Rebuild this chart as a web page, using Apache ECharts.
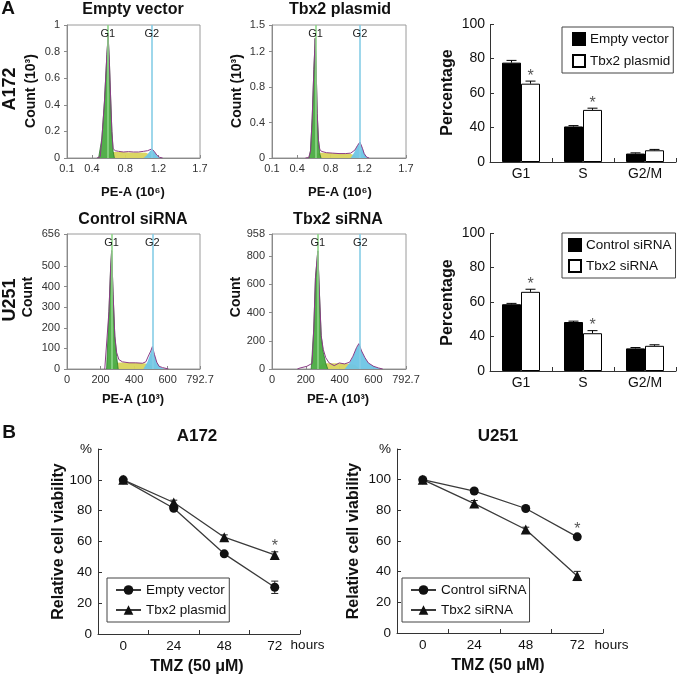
<!DOCTYPE html>
<html><head><meta charset="utf-8">
<script src="https://cdn.jsdelivr.net/npm/echarts@6/dist/echarts.min.js"></script>
<style>html,body{margin:0;padding:0;background:#fff}#c{width:677px;height:677px}</style>
</head><body><div id="c"></div><script>
// ---------- Panel A: cell-cycle histograms (x: PE-A, y: count) ----------
const gateNames = ['G1', 'G2'];
// A172 Empty vector (x in 10^6, y in 10^3)
const h1Total = [[0.46,0],[0.50,0.01],[0.52,0.15],[0.55,0.42],[0.58,0.78],[0.595,0.92],[0.61,0.72],[0.625,0.45],[0.64,0.2],[0.655,0.07],[0.68,0.055],[0.72,0.05],[0.78,0.045],[0.84,0.048],[0.90,0.045],[0.96,0.045],[1.02,0.05],[1.07,0.055],[1.12,0.068],[1.15,0.05],[1.18,0.022],[1.21,0.006],[1.25,0]];
const h1G1 = [[0.48,0],[0.50,0.01],[0.52,0.15],[0.55,0.42],[0.58,0.78],[0.595,0.92],[0.61,0.72],[0.625,0.45],[0.64,0.2],[0.655,0.05],[0.67,0]];
const h1S = [[0.56,0],[0.60,0.03],[0.65,0.045],[0.75,0.045],[0.85,0.042],[0.95,0.042],[1.05,0.04],[1.10,0.025],[1.14,0]];
const h1G2 = [[1.02,0],[1.06,0.02],[1.09,0.045],[1.12,0.065],[1.15,0.048],[1.18,0.02],[1.21,0]];
const h1Gates = [0.59, 1.12];
// A172 Tbx2 plasmid
const h2Total = [[0.50,0],[0.54,0.005],[0.56,0.08],[0.58,0.45],[0.60,1.0],[0.616,1.35],[0.63,0.9],[0.64,0.5],[0.655,0.2],[0.67,0.1],[0.69,0.075],[0.75,0.06],[0.82,0.055],[0.90,0.05],[0.98,0.05],[1.04,0.055],[1.09,0.09],[1.12,0.14],[1.15,0.18],[1.18,0.11],[1.20,0.05],[1.23,0.01],[1.26,0]];
const h2G1 = [[0.54,0],[0.56,0.08],[0.58,0.45],[0.60,1.0],[0.616,1.35],[0.63,0.9],[0.64,0.5],[0.655,0.2],[0.67,0.05],[0.685,0]];
const h2S = [[0.58,0],[0.62,0.05],[0.68,0.06],[0.80,0.055],[0.92,0.05],[1.02,0.05],[1.08,0.035],[1.13,0]];
const h2G2 = [[1.04,0],[1.08,0.06],[1.12,0.14],[1.15,0.18],[1.18,0.11],[1.21,0.04],[1.24,0]];
const h2Gates = [0.62, 1.15];
// U251 Control siRNA (x in 10^3)
const h3Total = [[225,0],[236,5],[250,280],[260,490],[266,575],[275,360],[285,160],[296,80],[309,46],[330,35],[370,30],[410,30],[450,28],[470,35],[485,63],[499,87],[509,109],[521,71],[535,33],[549,13],[569,7],[605,0]];
const h3G1 = [[236,0],[250,280],[260,490],[266,575],[275,360],[285,160],[296,60],[305,0]];
const h3S = [[265,0],[290,30],[330,32],[400,30],[460,28],[500,20],[530,0]];
const h3G2 = [[455,0],[480,35],[499,80],[509,105],[521,71],[535,33],[555,10],[580,0]];
const h3Gates = [266, 509];
// U251 Tbx2 siRNA
const h4Total = [[150,0],[166,7],[206,19],[237,40],[247,284],[257,645],[271,838],[281,525],[291,236],[303,140],[318,80],[338,43],[368,24],[398,43],[429,36],[459,48],[479,91],[500,152],[514,180],[530,128],[550,80],[570,43],[601,19],[631,7],[655,0]];
const h4G1 = [[232,0],[247,284],[257,645],[271,838],[281,525],[291,236],[303,120],[318,40],[330,0]];
const h4S = [[270,0],[300,40],[340,40],[400,40],[450,38],[490,30],[520,0]];
const h4G2 = [[430,0],[460,45],[480,90],[500,150],[514,175],[530,128],[550,80],[570,43],[601,19],[631,5],[650,0]];
const h4Gates = [271, 522];
// tick labels
const hAXTicks = [0.1, 0.4, 0.8, 1.2, 1.7];
const h1YTicks = [0, 0.2, 0.4, 0.6, 0.8, 1];
const h2YTicks = [0, 0.4, 0.8, 1.2, 1.5];
const hUXTicks = [0, 200, 400, 600, 792.7];
const h3YTicks = [0, 100, 200, 300, 400, 500, 656];
const h4YTicks = [0, 200, 400, 600, 800, 958];

// ---------- Panel A: bar charts ----------
const phases = ['G1', 'S', 'G2/M'];
const barA172Empty = [77.6, 40.6, 4.9];
const barA172EmptyErr = [1.3, 0.5, 0.4];
const barA172Tbx2 = [65.4, 50.2, 6.8];
const barA172Tbx2Err = [1.5, 1.0, 0.5];
const barA172Stars = [1, 1, 0];
const barU251Ctrl = [58.7, 48.4, 33.1];
const barU251CtrlErr = [0.5, 0.5, 0.5];
const barU251Si = [65.9, 41.9, 34.6];
const barU251SiErr = [1.5, 1.5, 0.6];
const barU251Stars = [1, 1, 0];
const barYTicks = [0, 40, 60, 80, 100];

// ---------- Panel B: viability ----------
const hours = ['0', '24', '48', '72'];
const vA172Empty = [100, 81.6, 52, 30.3];
const vA172EmptyErr = [0.8, 1.5, 1, 4];
const vA172Tbx2 = [100, 85.3, 62.8, 51.3];
const vA172Tbx2Err = [0.8, 1.5, 1.5, 2];
const vA172Stars = [0, 0, 0, 1]; // on Tbx2 plasmid
const vU251Ctrl = [100, 92.6, 81.2, 62.7];
const vU251CtrlErr = [0.8, 1.5, 1, 1.5];
const vU251Si = [100, 84.4, 67.5, 37.2];
const vU251SiErr = [0.8, 2, 1.5, 3];
const vU251Stars = [0, 0, 0, 1]; // on Control siRNA
const viabYTickValues = [0, 20, 40, 60, 80, 100, 120];
const viabYTickLabels = ['0', '20', '40', '60', '80', '100', '%'];

// ---------- styling / builders ----------
const FF = '"Liberation Sans", Arial, Helvetica, sans-serif';
const BAR_W = 19;

function grid(l, t, w, h, box) {
  return { left: l, top: t, width: w, height: h, containLabel: false, show: !!box,
    borderColor: '#9a9a9a', borderWidth: 1, backgroundColor: 'rgba(0,0,0,0)' };
}
function hX(gi, min, max, ticks) {
  return { type: 'value', gridIndex: gi, min: min, max: max,
    axisLine: { show: true, lineStyle: { color: '#8a8a8a' } },
    axisTick: { show: true, inside: true, length: 3, customValues: ticks, lineStyle: { color: '#8a8a8a' } },
    axisLabel: { show: true, customValues: ticks, formatter: v => String(v), fontSize: 11, color: '#333', fontFamily: FF, margin: 5 },
    splitLine: { show: false } };
}
function hY(gi, max, ticks) {
  return { type: 'value', gridIndex: gi, min: 0, max: max,
    axisLine: { show: true, lineStyle: { color: '#8a8a8a' } },
    axisTick: { show: true, inside: false, length: 3, customValues: ticks, lineStyle: { color: '#8a8a8a' } },
    axisLabel: { show: true, customValues: ticks, formatter: v => String(v), fontSize: 11, color: '#333', fontFamily: FF, margin: 7 },
    splitLine: { show: false } };
}
function histSeries(gi, g1, s, g2, total, gates, ymax) {
  const base = { type: 'line', xAxisIndex: gi, yAxisIndex: gi, symbol: 'none', silent: true, animation: false };
  return [
    Object.assign({}, base, { data: s, lineStyle: { width: 0 }, areaStyle: { color: '#d9d45c', opacity: 0.95 }, z: 2 }),
    Object.assign({}, base, { data: g1, lineStyle: { width: 0.8, color: '#2e7a2e' }, areaStyle: { color: '#4aab42', opacity: 0.95 }, z: 3 }),
    Object.assign({}, base, { data: g2, lineStyle: { width: 0 }, areaStyle: { color: '#6ec5e5', opacity: 0.95 }, z: 3 }),
    Object.assign({}, base, { data: total, lineStyle: { width: 1, color: '#8b3b86' }, z: 4,
      markLine: { symbol: ['none', 'none'], silent: true, animation: false, label: { show: false },
        data: gates.map((g, i) => [{ coord: [g, 0], lineStyle: { color: i ? '#86cde6' : '#8fd68a', width: 1.6, type: 'solid' } }, { coord: [g, ymax] }]) },
      markPoint: { symbol: 'circle', symbolSize: 0, silent: true, animation: false,
        label: { show: true, position: 'inside', formatter: '{b}', fontSize: 11, color: '#222', fontFamily: FF },
        data: gates.map((g, i) => ({ name: gateNames[i], coord: [g, ymax * 0.935] })) } })
  ];
}
function barX(gi) {
  return { type: 'category', gridIndex: gi, data: phases,
    axisLine: { show: true, lineStyle: { color: '#333' } },
    axisTick: { show: true, inside: true, length: 4, lineStyle: { color: '#333' } },
    axisLabel: { fontSize: 14, color: '#111', fontFamily: FF, margin: 5 } };
}
function barY(gi) {
  return { type: 'value', gridIndex: gi, min: 0, max: 100,
    breaks: [{ start: 10, end: 30, gap: 0 }],
    breakArea: { show: false },
    axisLine: { show: true, lineStyle: { color: '#333' } },
    axisTick: { show: true, inside: true, length: 4, customValues: barYTicks, lineStyle: { color: '#333' } },
    axisLabel: { customValues: barYTicks, formatter: v => String(v), fontSize: 14, color: '#111', fontFamily: FF, margin: 5 },
    splitLine: { show: false } };
}
function barErrRender(params, api) {
  const cat = api.value(0), which = api.value(1), val = api.value(2), err = api.value(3), star = api.value(4);
  const c = api.coord([cat, val]);
  const t = api.coord([cat, val + err]);
  const x = c[0] + (which === 0 ? -BAR_W / 2 : BAR_W / 2);
  const kids = [
    { type: 'line', shape: { x1: x, y1: c[1], x2: x, y2: t[1] }, style: { stroke: '#000', lineWidth: 1 } },
    { type: 'line', shape: { x1: x - 5, y1: t[1], x2: x + 5, y2: t[1] }, style: { stroke: '#000', lineWidth: 1 } }
  ];
  if (star) kids.push({ type: 'text', x: x, y: t[1] - 5, style: { text: '*', fontSize: 16, fontFamily: FF, fill: '#555', textAlign: 'center', textVerticalAlign: 'middle', align: 'center', verticalAlign: 'middle' } });
  return { type: 'group', children: kids };
}
function barErrData(a, ae, b, be, stars) {
  const d = [];
  a.forEach((v, i) => d.push([i, 0, v, ae[i], 0]));
  b.forEach((v, i) => d.push([i, 1, v, be[i], stars[i]]));
  return d;
}
function lineErrRender(params, api) {
  const cat = api.value(0), val = api.value(1), err = api.value(2), star = api.value(3);
  const lo = api.coord([cat, val - err]);
  const hi = api.coord([cat, val + err]);
  const x = lo[0];
  const kids = [
    { type: 'line', shape: { x1: x, y1: lo[1], x2: x, y2: hi[1] }, style: { stroke: '#222', lineWidth: 1 } },
    { type: 'line', shape: { x1: x - 3.5, y1: lo[1], x2: x + 3.5, y2: lo[1] }, style: { stroke: '#222', lineWidth: 1 } },
    { type: 'line', shape: { x1: x - 3.5, y1: hi[1], x2: x + 3.5, y2: hi[1] }, style: { stroke: '#222', lineWidth: 1 } }
  ];
  if (star) kids.push({ type: 'text', x: x, y: hi[1] - 5, style: { text: '*', fontSize: 16, fontFamily: FF, fill: '#555', textAlign: 'center', textVerticalAlign: 'middle', align: 'center', verticalAlign: 'middle' } });
  return { type: 'group', children: kids };
}
function lineErrData(v, e, stars) { return v.map((x, i) => [i, x, e[i], stars ? stars[i] : 0]); }
function lX(gi) {
  return { type: 'category', gridIndex: gi, data: hours, boundaryGap: true,
    axisLine: { show: true, lineStyle: { color: '#333' } },
    axisTick: { show: true, inside: true, length: 4, lineStyle: { color: '#333' } },
    axisLabel: { fontSize: 13.5, color: '#111', fontFamily: FF, margin: 5 } };
}
function lY(gi) {
  return { type: 'value', gridIndex: gi, min: 0, max: 120, interval: 20,
    axisLine: { show: true, lineStyle: { color: '#333' } },
    axisTick: { show: true, inside: true, length: 4, lineStyle: { color: '#333' } },
    axisLabel: { formatter: v => viabYTickLabels[viabYTickValues.indexOf(v)], fontSize: 13.5, color: '#111', fontFamily: FF, margin: 6 },
    splitLine: { show: false } };
}
function lineSeries(gi, name, data, sym) {
  return { type: 'line', name: name, xAxisIndex: gi, yAxisIndex: gi, data: data, symbol: sym, symbolSize: sym === 'triangle' ? 10 : 9,
    itemStyle: { color: '#111' }, lineStyle: { color: '#3a3a3a', width: 1.3 }, z: 3, animation: false };
}
function T(text, x, y, size, bold, rot) {
  return { type: 'text', x: x, y: y, rotation: rot ? Math.PI / 2 : 0, silent: true,
    style: { text: text, fontSize: size, fontWeight: bold ? 'bold' : 'normal', fontFamily: FF, fill: '#111',
      textAlign: 'center', textVerticalAlign: 'middle', align: 'center', verticalAlign: 'middle' } };
}
const legendBox = { orient: 'vertical', borderColor: '#444', borderWidth: 1, selectedMode: false,
  textStyle: { fontSize: 13.5, color: '#111', fontFamily: FF } };

const option = {
  animation: false,
  backgroundColor: '#fff',
  grid: [
    grid(67, 25, 133, 133, true), grid(272, 25, 134, 133, true),
    grid(67, 234, 133, 135, true), grid(272, 234, 134, 135, true),
    grid(490, 24, 186, 138), grid(490, 233, 186, 138),
    grid(98, 449, 202, 185), grid(397, 449, 206, 184)
  ],
  xAxis: [hX(0, 0.1, 1.7, hAXTicks), hX(1, 0.1, 1.7, hAXTicks), hX(2, 0, 792.7, hUXTicks), hX(3, 0, 792.7, hUXTicks),
    barX(4), barX(5), lX(6), lX(7)],
  yAxis: [hY(0, 1, h1YTicks), hY(1, 1.5, h2YTicks), hY(2, 656, h3YTicks), hY(3, 958, h4YTicks),
    barY(4), barY(5), lY(6), lY(7)],
  legend: [
    Object.assign({}, legendBox, { data: ['Empty vector', 'Tbx2 plasmid'], left: 562, top: 27, icon: 'rect', itemWidth: 12, itemHeight: 12, itemGap: 8, padding: [5, 3, 5, 10] }),
    Object.assign({}, legendBox, { data: ['Control siRNA', 'Tbx2 siRNA'], left: 562, top: 233, icon: 'rect', itemWidth: 12, itemHeight: 12, itemGap: 7, padding: [5, 4, 5, 6] }),
    Object.assign({}, legendBox, { data: ['A172|Empty vector', 'A172|Tbx2 plasmid'], left: 107, top: 578, itemWidth: 25, itemHeight: 12, itemGap: 6, padding: [5, 3, 5, 8], formatter: n => n.split('|')[1] }),
    Object.assign({}, legendBox, { data: ['U251|Control siRNA', 'U251|Tbx2 siRNA'], left: 402, top: 578, itemWidth: 25, itemHeight: 12, itemGap: 6, padding: [5, 3, 5, 8], formatter: n => n.split('|')[1] })
  ],
  series: [].concat(
    histSeries(0, h1G1, h1S, h1G2, h1Total, h1Gates, 1),
    histSeries(1, h2G1, h2S, h2G2, h2Total, h2Gates, 1.5),
    histSeries(2, h3G1, h3S, h3G2, h3Total, h3Gates, 656),
    histSeries(3, h4G1, h4S, h4G2, h4Total, h4Gates, 958),
    [
      { type: 'bar', name: 'Empty vector', xAxisIndex: 4, yAxisIndex: 4, data: barA172Empty, barWidth: BAR_W, barGap: '0%', itemStyle: { color: '#000', borderColor: '#000', borderWidth: 1 } },
      { type: 'bar', name: 'Tbx2 plasmid', xAxisIndex: 4, yAxisIndex: 4, data: barA172Tbx2, barWidth: BAR_W, barGap: '0%', itemStyle: { color: '#fff', borderColor: '#000', borderWidth: 1 } },
      { type: 'custom', xAxisIndex: 4, yAxisIndex: 4, data: barErrData(barA172Empty, barA172EmptyErr, barA172Tbx2, barA172Tbx2Err, barA172Stars), renderItem: barErrRender, z: 5, silent: true },
      { type: 'bar', name: 'Control siRNA', xAxisIndex: 5, yAxisIndex: 5, data: barU251Ctrl, barWidth: BAR_W, barGap: '0%', itemStyle: { color: '#000', borderColor: '#000', borderWidth: 1 } },
      { type: 'bar', name: 'Tbx2 siRNA', xAxisIndex: 5, yAxisIndex: 5, data: barU251Si, barWidth: BAR_W, barGap: '0%', itemStyle: { color: '#fff', borderColor: '#000', borderWidth: 1 } },
      { type: 'custom', xAxisIndex: 5, yAxisIndex: 5, data: barErrData(barU251Ctrl, barU251CtrlErr, barU251Si, barU251SiErr, barU251Stars), renderItem: barErrRender, z: 5, silent: true },
      lineSeries(6, 'A172|Empty vector', vA172Empty, 'circle'),
      lineSeries(6, 'A172|Tbx2 plasmid', vA172Tbx2, 'triangle'),
      { type: 'custom', xAxisIndex: 6, yAxisIndex: 6, data: lineErrData(vA172Empty, vA172EmptyErr), renderItem: lineErrRender, z: 2, silent: true },
      { type: 'custom', xAxisIndex: 6, yAxisIndex: 6, data: lineErrData(vA172Tbx2, vA172Tbx2Err, vA172Stars), renderItem: lineErrRender, z: 2, silent: true },
      lineSeries(7, 'U251|Control siRNA', vU251Ctrl, 'circle'),
      lineSeries(7, 'U251|Tbx2 siRNA', vU251Si, 'triangle'),
      { type: 'custom', xAxisIndex: 7, yAxisIndex: 7, data: lineErrData(vU251Ctrl, vU251CtrlErr, vU251Stars), renderItem: lineErrRender, z: 2, silent: true },
      { type: 'custom', xAxisIndex: 7, yAxisIndex: 7, data: lineErrData(vU251Si, vU251SiErr), renderItem: lineErrRender, z: 2, silent: true }
    ]
  ),
  graphic: [
    T('A', 8, 9, 19, true), T('B', 9, 433, 19, true),
    T('A172', 10, 89, 18, true, true), T('U251', 10, 300, 18, true, true),
    T('Empty vector', 133, 10, 16, true), T('Tbx2 plasmid', 340, 10, 16, true),
    T('Control siRNA', 133, 220, 16, true), T('Tbx2 siRNA', 338, 220, 16, true),
    T('Count (10³)', 31.5, 91, 14, true, true), T('Count (10³)', 237.5, 91, 14, true, true),
    T('Count', 28.5, 297, 14, true, true), T('Count', 236, 297, 14, true, true),
    T('PE-A (10⁶)', 133, 192, 13, true), T('PE-A (10⁶)', 340, 192, 13, true),
    T('PE-A (10³)', 133, 399, 13, true), T('PE-A (10³)', 338, 399, 13, true),
    T('Percentage', 447.5, 92.5, 16, true, true), T('Percentage', 447.5, 302.5, 16, true, true),
    T('A172', 197, 436, 17, true), T('U251', 498, 436, 17, true),
    T('Relative cell viability', 58.5, 541.5, 16, true, true), T('Relative cell viability', 354, 541, 16, true, true),
    T('TMZ (50 μM)', 197, 667, 16, true), T('TMZ (50 μM)', 498, 666, 16, true),
    T('hours', 307.5, 645, 13.5, false), T('hours', 611.5, 645, 13.5, false)
  ]
};
const chart = echarts.init(document.getElementById('c'), null, { renderer: 'canvas', width: 677, height: 677 });
chart.setOption(option);
</script></body></html>
